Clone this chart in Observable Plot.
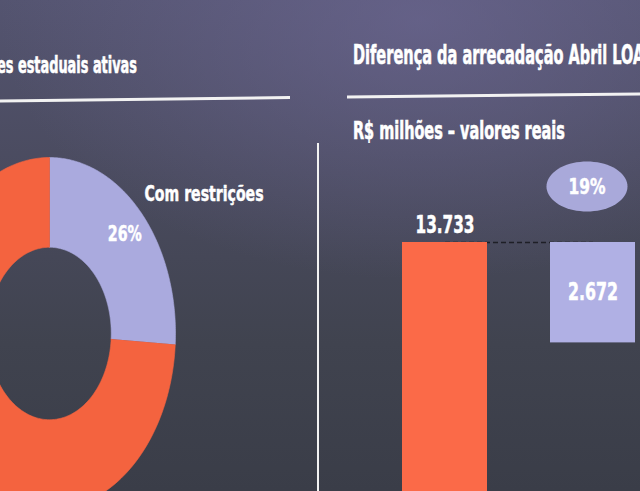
<!DOCTYPE html>
<html><head><meta charset="utf-8">
<script src="https://cdn.jsdelivr.net/npm/d3@7"></script>
<script src="https://cdn.jsdelivr.net/npm/@observablehq/plot@0.6"></script>
<style>
html,body{margin:0;padding:0;width:640px;height:491px;overflow:hidden;}
body{position:relative;background:
 radial-gradient(ellipse 420px 260px at 420px 20px, rgba(112,106,152,0.6), rgba(112,106,152,0) 100%),
 linear-gradient(180deg,#545470 0%,#4a4b5f 35%,#40434f 70%,#3a3d48 100%);}
.layer{position:absolute;left:0;top:0;}
svg{max-width:none !important;}
</style></head><body>
<script>
// ---------- data ----------
const donutCategories = ["Com restrições", "Sem restrições"];
const donutShares = [26, 74];
const donutColors = ["#aaaade", "#f4633f"];
const donutLabel = "Com restrições";

const barCategories = ["Previsão LOA", "Diferença"];
const barValues = [13733, 2672];
const barColors = ["#fb6a48", "#b0b0e4"];

const titleLeft = "es estaduais ativas";
const titleRight = "Diferença da arrecadação Abril LOA";
const subtitleRight = "R$ milhões – valores reais";

const FONT = "'Liberation Sans Narrow','DejaVu Sans Condensed',sans-serif";
const pt = d3.formatLocale({decimal: ",", thousands: ".", grouping: [3], currency: ["R$", ""]});
const fmtNum = pt.format(",.0f");
const fmtPct = pt.format(".0%");

// ---------- donut (left) ----------
const inner = 0.49;
const total = d3.sum(donutShares);
const ring = [];
let acc = 0;
const mids = [];
donutShares.forEach((v, i) => {
  const a0 = acc / total * 2 * Math.PI; acc += v; const a1 = acc / total * 2 * Math.PI;
  mids.push({cat: donutCategories[i], a: (a0 + a1) / 2, share: v / total});
  const n = 160;
  for (let k = 0; k <= n; k++) { const a = a0 + (a1 - a0) * k / n; ring.push({cat: donutCategories[i], x: Math.sin(a), y: Math.cos(a)}); }
  for (let k = n; k >= 0; k--) { const a = a0 + (a1 - a0) * k / n; ring.push({cat: donutCategories[i], x: inner * Math.sin(a), y: inner * Math.cos(a)}); }
});
const labelSlice = mids.filter(d => d.cat === donutLabel);

const txt = {fill: "white", stroke: "white", strokeWidth: 0.5, fontWeight: "bold", fontFamily: FONT};
const donut = Plot.plot({
  width: 252, height: 352, margin: 0,
  x: {domain: [-1, 1], axis: null},
  y: {domain: [-1, 1], axis: null},
  color: {domain: donutCategories, range: donutColors},
  style: {background: "transparent", overflow: "visible"},
  marks: [
    Plot.line(ring, {x: "x", y: "y", z: "cat", fill: "cat", stroke: "cat", strokeWidth: 0.6, curve: "linear"}),
    Plot.text(labelSlice, {x: d => 0.82 * Math.sin(d.a), y: d => 0.82 * Math.cos(d.a), text: d => fmtPct(d.share),
      fontSize: 21, ...txt}),
    Plot.text(labelSlice, {x: d => 1.1 * Math.sin(d.a), y: d => 1.1 * Math.cos(d.a), text: "cat", textAnchor: "start",
      dx: -6, dy: -7, fontSize: 21, ...txt})
  ]
});
donut.style.position = "absolute"; donut.style.left = "-77px"; donut.style.top = "157px";
document.body.appendChild(donut);

// ---------- waterfall bars (right) ----------
const top0 = barValues[0];
const bars = [
  {cat: barCategories[0], y1: 0, y2: top0, value: barValues[0], mid: top0},
  {cat: barCategories[1], y1: top0 - barValues[1], y2: top0, value: barValues[1], mid: top0 - barValues[1] / 2}
];
const ellipse = {
  draw(ctx, size) {
    const r = Math.sqrt(size / Math.PI), rx = r * 1.62, ry = r;
    const n = 72;
    for (let k = 0; k <= n; k++) {
      const a = k / n * 2 * Math.PI;
      const px = rx * Math.cos(a), py = ry * Math.sin(a);
      k ? ctx.lineTo(px, py) : ctx.moveTo(px, py);
    }
    ctx.closePath();
  }
};
const wf = Plot.plot({
  width: 640, height: 758, margin: 0,
  x: {domain: barCategories, range: [339, 699], padding: 0.424, axis: null},
  y: {domain: [0, top0], range: [758, 242], axis: null},
  color: {domain: barCategories, range: barColors},
  style: {background: "transparent", overflow: "visible"},
  marks: [
    Plot.link([bars[0]], {x1: () => barCategories[0], x2: () => barCategories[1], y1: "y2", y2: "y2",
      stroke: "#1e1f26", strokeWidth: 1.6, strokeDasharray: "5,3"}),
    Plot.barY(bars, {x: "cat", y1: "y1", y2: "y2", fill: "cat"}),
    Plot.text([bars[0]], {x: "cat", y: "y2", text: d => fmtNum(d.value), dy: -17, fontSize: 24, ...txt}),
    Plot.text([bars[1]], {x: "cat", y: "mid", text: d => fmtNum(d.value), fontSize: 24, ...txt}),
    Plot.dot([bars[1]], {x: "cat", y: "y2", dx: -6, dy: -56, r: 25, symbol: ellipse, fill: "#a9a9da", stroke: "none"}),
    Plot.text([bars[1]], {x: "cat", y: "y2", dx: -6, dy: -56, text: d => fmtPct(d.value / bars[0].value), fontSize: 22, ...txt})
  ]
});
wf.style.position = "absolute"; wf.style.left = "0px"; wf.style.top = "0px";
document.body.appendChild(wf);

// condense label widths to match the narrow slide typeface
const fitWidths = {"13.733": 59, "2.672": 50, "19%": 37, "26%": 34, "Com restrições": 119};
d3.selectAll([donut, wf]).selectAll("text").each(function () {
  const w = fitWidths[this.textContent];
  if (w) d3.select(this).attr("textLength", w).attr("lengthAdjust", "spacingAndGlyphs");
});

// ---------- headings & rules ----------
const deco = d3.select(document.body).append("svg").attr("class", "layer")
  .attr("width", 640).attr("height", 491).style("overflow", "visible");
deco.append("line").attr("x1", 0).attr("y1", 101).attr("x2", 290).attr("y2", 97.5)
  .attr("stroke", "#f2f2f2").attr("stroke-width", 3);
deco.append("line").attr("x1", 347).attr("y1", 97).attr("x2", 640).attr("y2", 94)
  .attr("stroke", "#f2f2f2").attr("stroke-width", 3);
deco.append("line").attr("x1", 318).attr("y1", 143).attr("x2", 318).attr("y2", 491)
  .attr("stroke", "#f2f2f2").attr("stroke-width", 2);

function fitText(x, y, str, size, prefixLen, target) {
  const t = deco.append("text").attr("x", 0).attr("y", 0).attr("fill", "white")
    .attr("stroke", "white").attr("stroke-width", 0.6)
    .attr("font-family", FONT).attr("font-weight", "bold").attr("font-size", size).text(str);
  const w = t.node().getSubStringLength(0, prefixLen);
  const s = target / w;
  t.attr("transform", `translate(${x},${y}) scale(${s},1)`);
}
fitText(-3, 73, titleLeft, 23, titleLeft.length, 140);
fitText(353, 64, titleRight, 27, titleRight.length - 1, 280);
fitText(353, 139, subtitleRight, 24, subtitleRight.length, 212);
</script>
</body></html>
